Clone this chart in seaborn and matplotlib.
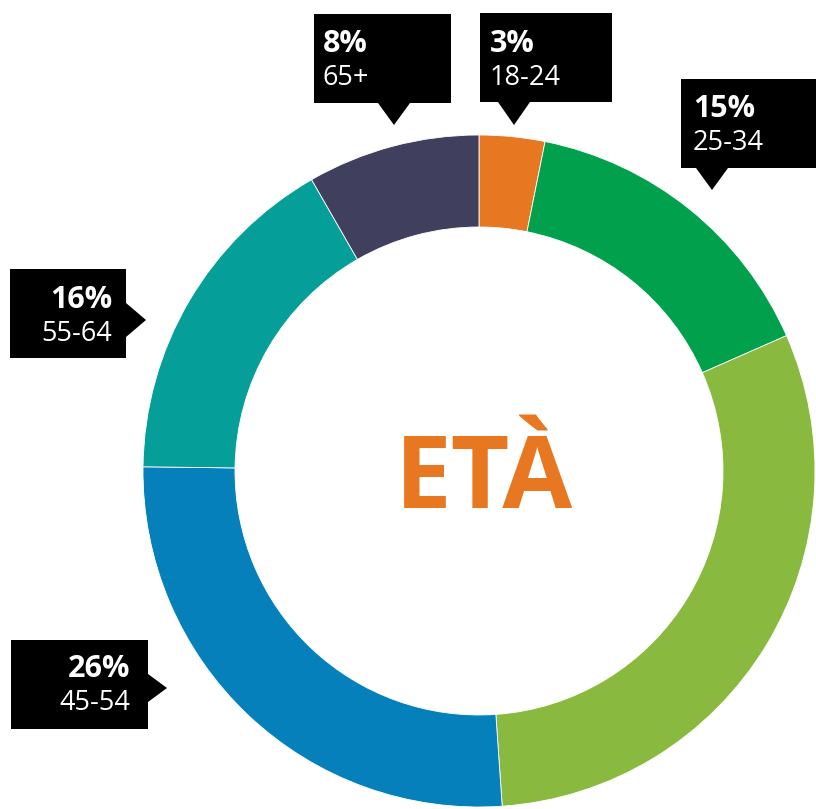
import matplotlib
matplotlib.use("Agg")
import matplotlib.pyplot as plt
from matplotlib.patches import Polygon
import seaborn as sns

# ---- data ----
age_groups = ["18-24", "25-34", "35-44", "45-54", "55-64", "65+"]
shares = [3.15, 15.25, 30.5, 26.3, 16.5, 8.3]
share_labels = ["3%", "15%", None, "26%", "16%", "8%"]
colors = ["#E87722", "#00A04C", "#89B93F", "#0580BA", "#059E98", "#40405E"]
center_title = "ETÀ"

sns.set_theme(style="white")
plt.rcParams["font.family"] = ["Open Sans", "DejaVu Sans"]

W, H = 816, 809
fig = plt.figure(figsize=(W / 100, H / 100), dpi=100)
ax = fig.add_axes([0, 0, 1, 1])


def Y(y):
    return H - y


# ---- donut ----
cx, cy, R, ring = 479, 471, 336, 92
ax.pie(shares, colors=colors, startangle=90, counterclock=False,
       center=(cx, Y(cy)), radius=R, frame=True,
       wedgeprops=dict(width=ring, edgecolor="white", linewidth=0.6))
ax.set_xlim(0, W)
ax.set_ylim(0, H)
ax.set_aspect("equal")
ax.axis("off")

ax.text(484, Y(508), center_title, color=colors[0], fontsize=73,
        fontweight="bold", ha="center", va="baseline")

# ---- callouts (layout) ----
callouts = {
    "65+":   dict(box=(314, 14, 451, 103), side="bottom", tip=(394, 125), half=16,
                  tx=323, b1=52, b2=85, ha="left"),
    "18-24": dict(box=(480, 13, 612, 102), side="bottom", tip=(514, 125), half=16,
                  tx=490, b1=52, b2=85, ha="left"),
    "25-34": dict(box=(681, 79, 830, 168), side="bottom", tip=(712, 190), half=16,
                  tx=693, b1=117, b2=150, ha="left"),
    "55-64": dict(box=(10, 269, 126, 358), side="right", tip=(146, 320), half=17,
                  tx=112, b1=308, b2=341, ha="right"),
    "45-54": dict(box=(11, 640, 148, 729), side="right", tip=(167, 688), half=14,
                  tx=130, b1=677, b2=710, ha="right"),
}

for grp, lab in zip(age_groups, share_labels):
    if lab is None or grp not in callouts:
        continue
    c = callouts[grp]
    x0, y0, x1, y1 = c["box"]
    tx, ty = c["tip"]
    h = c["half"]
    if c["side"] == "bottom":
        pts = [(x0, y0), (x1, y0), (x1, y1), (tx + h, y1), (tx, ty), (tx - h, y1), (x0, y1)]
    else:
        pts = [(x0, y0), (x1, y0), (x1, ty - h), (tx, ty), (x1, ty + h), (x1, y1), (x0, y1)]
    ax.add_patch(Polygon([(px, Y(py)) for px, py in pts], closed=True,
                         facecolor="black", edgecolor="none", zorder=5))
    ax.text(c["tx"], Y(c["b1"]), lab, color="white", fontsize=22,
            fontweight="bold", ha=c["ha"], va="baseline", zorder=6)
    ax.text(c["tx"], Y(c["b2"]), grp, color="white", fontsize=19.5,
            ha=c["ha"], va="baseline", zorder=6)

fig.savefig("out.png", dpi=100, facecolor="white")
